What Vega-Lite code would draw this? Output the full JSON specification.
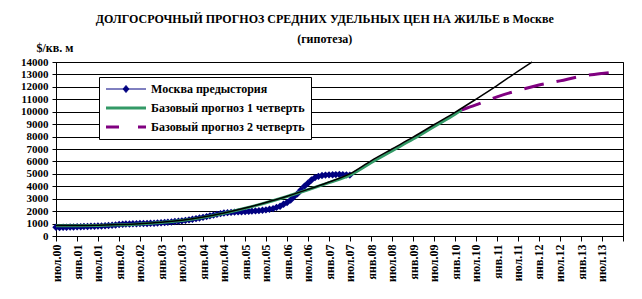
{
  "$schema": "https://vega.github.io/schema/vega-lite/v6.json",
  "width": 567,
  "height": 174,
  "autosize": {"type": "none"},
  "padding": {"left": 56, "top": 62, "right": 19, "bottom": 63},
  "background": "white",
  "title": {
    "text": "ДОЛГОСРОЧНЫЙ ПРОГНОЗ СРЕДНИХ УДЕЛЬНЫХ ЦЕН НА ЖИЛЬЕ в Москве",
    "subtitle": "(гипотеза)",
    "font": "Liberation Serif",
    "fontSize": 12,
    "fontWeight": "bold",
    "color": "black",
    "subtitleFont": "Liberation Serif",
    "subtitleFontSize": 12,
    "subtitleFontWeight": "bold",
    "subtitleColor": "black",
    "subtitlePadding": 8,
    "anchor": "middle",
    "frame": "bounds",
    "offset": -5
  },
  "config": {
    "view": {"stroke": "black", "strokeWidth": 1},
    "axis": {
      "labelFont": "Liberation Serif",
      "labelFontWeight": "bold",
      "labelColor": "black",
      "domainColor": "black",
      "tickColor": "black",
      "titleFont": "Liberation Serif",
      "titleFontWeight": "bold",
      "titleColor": "black"
    }
  },
  "datasets": {
    "main": [
      {"date": "2000-07-01", "series": "Москва предыстория", "value": 700},
      {"date": "2000-08-01", "series": "Москва предыстория", "value": 690},
      {"date": "2000-09-01", "series": "Москва предыстория", "value": 710},
      {"date": "2000-10-01", "series": "Москва предыстория", "value": 700},
      {"date": "2000-11-01", "series": "Москва предыстория", "value": 720},
      {"date": "2000-12-01", "series": "Москва предыстория", "value": 730},
      {"date": "2001-01-01", "series": "Москва предыстория", "value": 740},
      {"date": "2001-02-01", "series": "Москва предыстория", "value": 750},
      {"date": "2001-03-01", "series": "Москва предыстория", "value": 760},
      {"date": "2001-04-01", "series": "Москва предыстория", "value": 770},
      {"date": "2001-05-01", "series": "Москва предыстория", "value": 780},
      {"date": "2001-06-01", "series": "Москва предыстория", "value": 790},
      {"date": "2001-07-01", "series": "Москва предыстория", "value": 800},
      {"date": "2001-08-01", "series": "Москва предыстория", "value": 810},
      {"date": "2001-09-01", "series": "Москва предыстория", "value": 830},
      {"date": "2001-10-01", "series": "Москва предыстория", "value": 850},
      {"date": "2001-11-01", "series": "Москва предыстория", "value": 870},
      {"date": "2001-12-01", "series": "Москва предыстория", "value": 890},
      {"date": "2002-01-01", "series": "Москва предыстория", "value": 920},
      {"date": "2002-02-01", "series": "Москва предыстория", "value": 940},
      {"date": "2002-03-01", "series": "Москва предыстория", "value": 960},
      {"date": "2002-04-01", "series": "Москва предыстория", "value": 970},
      {"date": "2002-05-01", "series": "Москва предыстория", "value": 980},
      {"date": "2002-06-01", "series": "Москва предыстория", "value": 990},
      {"date": "2002-07-01", "series": "Москва предыстория", "value": 1000},
      {"date": "2002-08-01", "series": "Москва предыстория", "value": 1000},
      {"date": "2002-09-01", "series": "Москва предыстория", "value": 1010},
      {"date": "2002-10-01", "series": "Москва предыстория", "value": 1020},
      {"date": "2002-11-01", "series": "Москва предыстория", "value": 1030},
      {"date": "2002-12-01", "series": "Москва предыстория", "value": 1050},
      {"date": "2003-01-01", "series": "Москва предыстория", "value": 1070},
      {"date": "2003-02-01", "series": "Москва предыстория", "value": 1090},
      {"date": "2003-03-01", "series": "Москва предыстория", "value": 1110},
      {"date": "2003-04-01", "series": "Москва предыстория", "value": 1130},
      {"date": "2003-05-01", "series": "Москва предыстория", "value": 1160},
      {"date": "2003-06-01", "series": "Москва предыстория", "value": 1190},
      {"date": "2003-07-01", "series": "Москва предыстория", "value": 1220},
      {"date": "2003-08-01", "series": "Москва предыстория", "value": 1260},
      {"date": "2003-09-01", "series": "Москва предыстория", "value": 1300},
      {"date": "2003-10-01", "series": "Москва предыстория", "value": 1350},
      {"date": "2003-11-01", "series": "Москва предыстория", "value": 1400},
      {"date": "2003-12-01", "series": "Москва предыстория", "value": 1450},
      {"date": "2004-01-01", "series": "Москва предыстория", "value": 1500},
      {"date": "2004-02-01", "series": "Москва предыстория", "value": 1560},
      {"date": "2004-03-01", "series": "Москва предыстория", "value": 1620},
      {"date": "2004-04-01", "series": "Москва предыстория", "value": 1680},
      {"date": "2004-05-01", "series": "Москва предыстория", "value": 1740},
      {"date": "2004-06-01", "series": "Москва предыстория", "value": 1800},
      {"date": "2004-07-01", "series": "Москва предыстория", "value": 1850},
      {"date": "2004-08-01", "series": "Москва предыстория", "value": 1880},
      {"date": "2004-09-01", "series": "Москва предыстория", "value": 1900},
      {"date": "2004-10-01", "series": "Москва предыстория", "value": 1920},
      {"date": "2004-11-01", "series": "Москва предыстория", "value": 1940},
      {"date": "2004-12-01", "series": "Москва предыстория", "value": 1950},
      {"date": "2005-01-01", "series": "Москва предыстория", "value": 1960},
      {"date": "2005-02-01", "series": "Москва предыстория", "value": 1980},
      {"date": "2005-03-01", "series": "Москва предыстория", "value": 2000},
      {"date": "2005-04-01", "series": "Москва предыстория", "value": 2020},
      {"date": "2005-05-01", "series": "Москва предыстория", "value": 2040},
      {"date": "2005-06-01", "series": "Москва предыстория", "value": 2070},
      {"date": "2005-07-01", "series": "Москва предыстория", "value": 2100},
      {"date": "2005-08-01", "series": "Москва предыстория", "value": 2150},
      {"date": "2005-09-01", "series": "Москва предыстория", "value": 2200},
      {"date": "2005-10-01", "series": "Москва предыстория", "value": 2300},
      {"date": "2005-11-01", "series": "Москва предыстория", "value": 2400},
      {"date": "2005-12-01", "series": "Москва предыстория", "value": 2550},
      {"date": "2006-01-01", "series": "Москва предыстория", "value": 2700},
      {"date": "2006-02-01", "series": "Москва предыстория", "value": 2900},
      {"date": "2006-03-01", "series": "Москва предыстория", "value": 3150},
      {"date": "2006-04-01", "series": "Москва предыстория", "value": 3400},
      {"date": "2006-05-01", "series": "Москва предыстория", "value": 3700},
      {"date": "2006-06-01", "series": "Москва предыстория", "value": 4000},
      {"date": "2006-07-01", "series": "Москва предыстория", "value": 4250},
      {"date": "2006-08-01", "series": "Москва предыстория", "value": 4500},
      {"date": "2006-09-01", "series": "Москва предыстория", "value": 4700},
      {"date": "2006-10-01", "series": "Москва предыстория", "value": 4800},
      {"date": "2006-11-01", "series": "Москва предыстория", "value": 4870},
      {"date": "2006-12-01", "series": "Москва предыстория", "value": 4900},
      {"date": "2007-01-01", "series": "Москва предыстория", "value": 4920},
      {"date": "2007-02-01", "series": "Москва предыстория", "value": 4930},
      {"date": "2007-03-01", "series": "Москва предыстория", "value": 4940},
      {"date": "2007-04-01", "series": "Москва предыстория", "value": 4950},
      {"date": "2007-05-01", "series": "Москва предыстория", "value": 4940},
      {"date": "2007-06-01", "series": "Москва предыстория", "value": 4920},
      {"date": "2007-07-01", "series": "Москва предыстория", "value": 4900},

      {"date": "2000-07-01", "series": "Базовый прогноз 1 четверть", "value": 820},
      {"date": "2001-01-01", "series": "Базовый прогноз 1 четверть", "value": 830},
      {"date": "2001-07-01", "series": "Базовый прогноз 1 четверть", "value": 850},
      {"date": "2002-01-01", "series": "Базовый прогноз 1 четверть", "value": 900},
      {"date": "2002-07-01", "series": "Базовый прогноз 1 четверть", "value": 970},
      {"date": "2003-01-01", "series": "Базовый прогноз 1 четверть", "value": 1080},
      {"date": "2003-07-01", "series": "Базовый прогноз 1 четверть", "value": 1250},
      {"date": "2004-01-01", "series": "Базовый прогноз 1 четверть", "value": 1500},
      {"date": "2004-07-01", "series": "Базовый прогноз 1 четверть", "value": 1830},
      {"date": "2005-01-01", "series": "Базовый прогноз 1 четверть", "value": 2230},
      {"date": "2005-07-01", "series": "Базовый прогноз 1 четверть", "value": 2680},
      {"date": "2006-01-01", "series": "Базовый прогноз 1 четверть", "value": 3180},
      {"date": "2006-07-01", "series": "Базовый прогноз 1 четверть", "value": 3720},
      {"date": "2007-01-01", "series": "Базовый прогноз 1 четверть", "value": 4300},
      {"date": "2007-07-01", "series": "Базовый прогноз 1 четверть", "value": 4900},
      {"date": "2008-01-01", "series": "Базовый прогноз 1 четверть", "value": 5900},
      {"date": "2008-07-01", "series": "Базовый прогноз 1 четверть", "value": 6850},
      {"date": "2009-01-01", "series": "Базовый прогноз 1 четверть", "value": 7800},
      {"date": "2009-07-01", "series": "Базовый прогноз 1 четверть", "value": 8800},
      {"date": "2010-01-01", "series": "Базовый прогноз 1 четверть", "value": 9800},
      {"date": "2010-03-01", "series": "Базовый прогноз 1 четверть", "value": 10150},

      {"date": "2010-03-01", "series": "Базовый прогноз 2 четверть", "value": 10150},
      {"date": "2010-07-01", "series": "Базовый прогноз 2 четверть", "value": 10550},
      {"date": "2011-01-01", "series": "Базовый прогноз 2 четверть", "value": 11200},
      {"date": "2011-07-01", "series": "Базовый прогноз 2 четверть", "value": 11700},
      {"date": "2012-01-01", "series": "Базовый прогноз 2 четверть", "value": 12150},
      {"date": "2012-07-01", "series": "Базовый прогноз 2 четверть", "value": 12480},
      {"date": "2013-01-01", "series": "Базовый прогноз 2 четверть", "value": 12850},
      {"date": "2013-07-01", "series": "Базовый прогноз 2 четверть", "value": 13080},
      {"date": "2013-11-01", "series": "Базовый прогноз 2 четверть", "value": 13200},

      {"date": "2000-07-01", "series": "Тренд", "value": 850},
      {"date": "2001-01-01", "series": "Тренд", "value": 850},
      {"date": "2001-07-01", "series": "Тренд", "value": 870},
      {"date": "2002-01-01", "series": "Тренд", "value": 920},
      {"date": "2002-07-01", "series": "Тренд", "value": 990},
      {"date": "2003-01-01", "series": "Тренд", "value": 1100},
      {"date": "2003-07-01", "series": "Тренд", "value": 1270},
      {"date": "2004-01-01", "series": "Тренд", "value": 1520},
      {"date": "2004-07-01", "series": "Тренд", "value": 1850},
      {"date": "2005-01-01", "series": "Тренд", "value": 2250},
      {"date": "2005-07-01", "series": "Тренд", "value": 2700},
      {"date": "2006-01-01", "series": "Тренд", "value": 3200},
      {"date": "2006-07-01", "series": "Тренд", "value": 3750},
      {"date": "2007-01-01", "series": "Тренд", "value": 4350},
      {"date": "2007-07-01", "series": "Тренд", "value": 5000},
      {"date": "2008-01-01", "series": "Тренд", "value": 6050},
      {"date": "2008-07-01", "series": "Тренд", "value": 7000},
      {"date": "2009-01-01", "series": "Тренд", "value": 7950},
      {"date": "2009-07-01", "series": "Тренд", "value": 8950},
      {"date": "2010-01-01", "series": "Тренд", "value": 9950},
      {"date": "2010-07-01", "series": "Тренд", "value": 11000},
      {"date": "2011-01-01", "series": "Тренд", "value": 12100},
      {"date": "2011-07-01", "series": "Тренд", "value": 13250},
      {"date": "2011-11-01", "series": "Тренд", "value": 14000}
    ]
  },
  "data": {"name": "main"},
  "encoding": {
    "x": {
      "field": "date",
      "type": "temporal",
      "scale": {"domain": ["2000-07-01", "2014-01-01"]},
      "axis": {
        "title": null,
        "tickCount": {"interval": "month", "step": 6},
        "labelExpr": "year(datum.value) >= 2014 ? '' : (month(datum.value) == 0 ? 'янв.' : 'июл.') + timeFormat(datum.value, '%y')",
        "labelAngle": 270,
        "labelAlign": "right",
        "labelBaseline": "middle",
        "labelFontSize": 12,
        "labelPadding": 3,
        "labelOverlap": false,
        "labelFlush": false,
        "tickSize": 5,
        "grid": false
      }
    },
    "y": {
      "field": "value",
      "type": "quantitative",
      "scale": {"domain": [0, 14000]},
      "axis": {
        "title": "$/кв. м",
        "titleAngle": 0,
        "titleAlign": "left",
        "titleBaseline": "alphabetic",
        "titleX": -20,
        "titleY": -11,
        "titleFontSize": 12,
        "values": [0, 1000, 2000, 3000, 4000, 5000, 6000, 7000, 8000, 9000, 10000, 11000, 12000, 13000, 14000],
        "format": "d",
        "labelFontSize": 11,
        "labelPadding": 4,
        "labelOverlap": false,
        "labelFlush": false,
        "tickSize": 4,
        "grid": true,
        "gridColor": "black",
        "gridOpacity": 1,
        "gridWidth": 1
      }
    }
  },
  "layer": [
    {
      "transform": [{"filter": "datum.series == 'Москва предыстория'"}],
      "mark": {"type": "line", "strokeWidth": 1, "color": "#000080"},
      "encoding": {
        "color": {
          "field": "series",
          "type": "nominal",
          "scale": {
            "domain": ["Москва предыстория", "Базовый прогноз 1 четверть", "Базовый прогноз 2 четверть"],
            "range": ["#000080", "#339966", "#800080"]
          },
          "legend": {
            "title": null,
            "orient": "none",
            "legendX": 43,
            "legendY": 15,
            "padding": 6,
            "strokeColor": "black",
            "fillColor": "white",
            "labelFont": "Liberation Serif",
            "labelFontSize": 12,
            "labelFontWeight": "bold",
            "labelColor": "black",
            "labelLimit": 300,
            "labelOffset": 34,
            "rowPadding": 7,
            "symbolSize": 100,
            "symbolType": "M-1,0L7,0",
            "encode": {
              "symbols": {
                "update": {
                  "shape": {"signal": "datum.value == 'Москва предыстория' ? 'M-1,0L7,0M3,-0.7L3.6,0L3,0.7L2.4,0Z' : 'M-1,0L7,0'"},
                  "strokeWidth": {"signal": "datum.value == 'Москва предыстория' ? 1 : 3"},
                  "strokeDash": {"signal": "datum.value == 'Базовый прогноз 2 четверть' ? [13, 19] : [1, 0]"},
                  "stroke": {"signal": "datum.value == 'Москва предыстория' ? '#000080' : (datum.value == 'Базовый прогноз 1 четверть' ? '#339966' : '#800080')"},
                  "fill": {"signal": "datum.value == 'Москва предыстория' ? '#000080' : 'transparent'"},
                  "opacity": {"value": 1}
                }
              }
            }
          }
        }
      }
    },
    {
      "transform": [{"filter": "datum.series == 'Москва предыстория'"}],
      "mark": {"type": "point", "shape": "diamond", "filled": true, "size": 55, "opacity": 1, "color": "#000080"}
    },
    {
      "transform": [{"filter": "datum.series == 'Базовый прогноз 1 четверть'"}],
      "mark": {"type": "line", "strokeWidth": 3, "interpolate": "monotone"},
      "encoding": {"color": {"field": "series", "type": "nominal"}}
    },
    {
      "transform": [{"filter": "datum.series == 'Базовый прогноз 2 четверть'"}],
      "mark": {"type": "line", "strokeWidth": 3, "strokeDash": [20, 13], "interpolate": "monotone"},
      "encoding": {"color": {"field": "series", "type": "nominal"}}
    },
    {
      "transform": [{"filter": "datum.series == 'Тренд'"}],
      "mark": {"type": "line", "strokeWidth": 1.5, "color": "black", "interpolate": "monotone"},
      "encoding": {}
    }
  ]
}
